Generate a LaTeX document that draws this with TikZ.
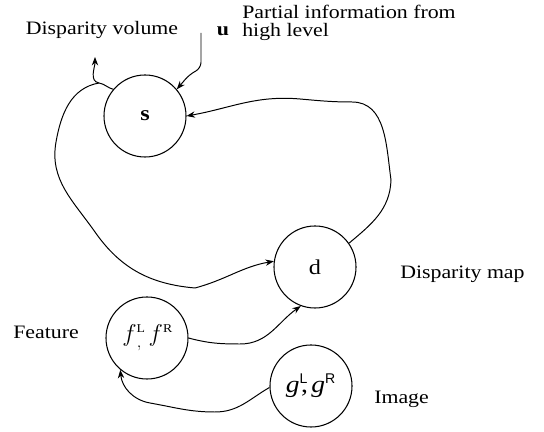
\documentclass[tikz,border=0pt]{standalone}
\usepackage{fontspec}
\setmainfont{Liberation Serif}[FakeStretch=1.15]
\setsansfont{Liberation Sans}
\usetikzlibrary{arrows.meta}

\begin{document}
\begin{tikzpicture}[
  x=0.025cm, y=0.025cm,
  every node/.style={font=\fontsize{13.5}{13.5}\selectfont},
  state/.style={circle, draw, line width=0.75pt, minimum size=2.05cm, inner sep=0pt, font=\fontsize{15}{15}\selectfont},
  pair/.style={font=\fontsize{17}{17}\selectfont},
  caption/.style={inner sep=0pt},
  link/.style={line width=0.7pt, -{Stealth[length=6pt, width=4.5pt]}},
]
\useasboundingbox (0,0) rectangle (544,432);
\node[state] (s) at (145,316) {\textbf{s}};
\node[state] (d) at (315,165) {d};
\node[state, pair] (f) at (147,94) {$f^{\scriptscriptstyle\mathrm{L}}_{\,,}\,f^{\scriptscriptstyle\mathrm{R}}$};
\node[state, pair] (g) at (311,46) {\textit{g}\textsuperscript{\fontsize{10}{10}\sffamily L}\kern-0.3em,\kern0.15em\textit{g}\textsuperscript{\fontsize{10}{10}\sffamily R}};
\node[caption, anchor=base] (vollbl) at (102,397) {Disparity volume};
\node[caption, anchor=base] (u) at (223,396) {\textbf{u}};
\node[caption, anchor=base west, align=left] (partial) at (242,395) {Partial information from\\high level};
\node[caption, anchor=base west] (maplbl) at (400,153) {Disparity map};
\node[caption, anchor=base west] (featlbl) at (13,93) {Feature};
\node[caption, anchor=base west] (imglbl) at (374,28) {Image};
\coordinate (j) at (99,349);
\coordinate (vol) at (95,375);
\coordinate (uin) at (201,399);
\draw[link] (s.140) to[out=165,in=-10] (j) to[out=170,in=-90] (vol);
\draw[link] (j) to[out=190,in=80] (56,290) to[out=-100,in=125] (95,200) to[out=-55,in=175] (195,144) to[out=15,in=190] (d.172);
\draw[link, rounded corners=4pt] (uin) -- (201,364) -- (189,357) -- (s.40);
\draw[link] (d.35) to[out=40,in=-92] (391,252) to[out=98,in=0] (352,330) to[out=180,in=-5] (300,333) to[out=175,in=10] (s.east);
\draw[link] (f.east) to[out=-15,in=180] (240,88) to[out=0,in=215] (d.-110);
\draw[link] (g.182) to[out=210,in=0] (215,20) to[out=180,in=-10] (150,29) to[out=170,in=-85] (f.-130);
\end{tikzpicture}
\end{document}
